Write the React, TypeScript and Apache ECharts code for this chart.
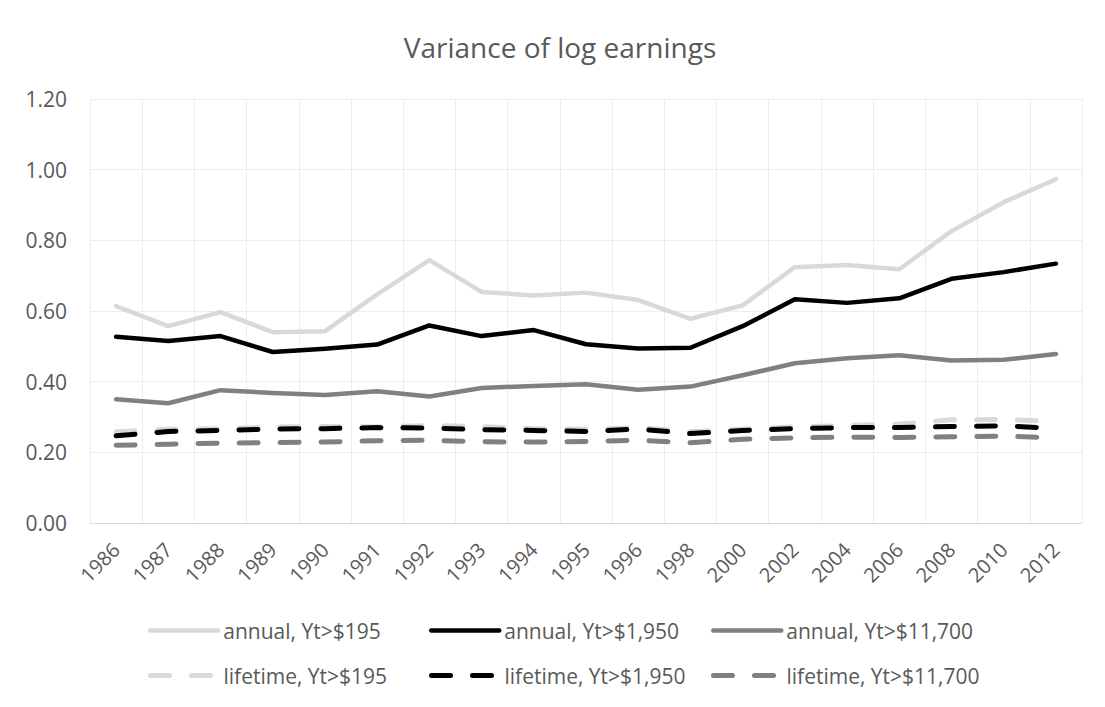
import React, { useEffect, useRef } from "react";
import * as echarts from "echarts";

const years = ["1986", "1987", "1988", "1989", "1990", "1991", "1992", "1993", "1994", "1995", "1996", "1998", "2000", "2002", "2004", "2006", "2008", "2010", "2012"];

const annual195 = [0.614, 0.557, 0.597, 0.540, 0.543, 0.647, 0.744, 0.654, 0.644, 0.652, 0.631, 0.578, 0.616, 0.724, 0.730, 0.718, 0.826, 0.908, 0.973];
const annual1950 = [0.527, 0.515, 0.529, 0.484, 0.493, 0.505, 0.559, 0.529, 0.546, 0.506, 0.494, 0.496, 0.557, 0.633, 0.623, 0.636, 0.691, 0.710, 0.734];
const annual11700 = [0.350, 0.339, 0.376, 0.368, 0.362, 0.373, 0.358, 0.382, 0.388, 0.393, 0.377, 0.386, 0.418, 0.452, 0.466, 0.475, 0.460, 0.462, 0.478];
const lifetime195 = [0.258, 0.265, 0.267, 0.272, 0.273, 0.272, 0.276, 0.273, 0.267, 0.265, 0.270, 0.258, 0.266, 0.272, 0.276, 0.280, 0.292, 0.293, 0.287];
const lifetime1950 = [0.247, 0.259, 0.262, 0.266, 0.267, 0.270, 0.269, 0.264, 0.262, 0.259, 0.266, 0.253, 0.262, 0.267, 0.270, 0.270, 0.273, 0.275, 0.268];
const lifetime11700 = [0.220, 0.223, 0.226, 0.228, 0.229, 0.233, 0.234, 0.230, 0.229, 0.231, 0.234, 0.227, 0.237, 0.241, 0.243, 0.242, 0.244, 0.246, 0.241];

const seriesNames = [
  "annual, Yt>$195",
  "annual, Yt>$1,950",
  "annual, Yt>$11,700",
  "lifetime, Yt>$195",
  "lifetime, Yt>$1,950",
  "lifetime, Yt>$11,700",
];
const seriesData = [annual195, annual1950, annual11700, lifetime195, lifetime1950, lifetime11700];
const seriesColors = ["#D9D9D9", "#000000", "#808080", "#D9D9D9", "#000000", "#808080"];

const FONT = "'Open Sans', sans-serif";
const TEXT = "#595959";

export default function App() {
  const ref = useRef<HTMLDivElement>(null);
  useEffect(() => {
    if (!ref.current) return;
    const chart = echarts.init(ref.current, undefined, { renderer: "svg" });
    const legendLeft = [140, 421, 703];
    const legendTop = [612, 657];
    const legends = seriesNames.map((name, i) => ({
      data: [name],
      left: legendLeft[i % 3],
      top: legendTop[Math.floor(i / 3)],
      padding: 0,
      itemWidth: 68,
      itemHeight: 14,
      selectedMode: false,
      itemStyle: { opacity: 0 },
      lineStyle: i < 3 ? { width: 4.5 } : { width: 5 },
      textStyle: { fontFamily: FONT, fontSize: 21, color: TEXT },
    }));
    chart.setOption({
      animation: false,
      backgroundColor: "#ffffff",
      textStyle: { fontFamily: FONT },
      graphic: [
        {
          type: "text",
          x: 552,
          y: 39,
          style: {
            text: "Variance of log earnings",
            fontFamily: FONT,
            fontSize: 28,
            fill: TEXT,
            textAlign: "center",
            textVerticalAlign: "middle",
          },
        },
      ],
      legend: legends,
      grid: { left: 82, top: 91, width: 992, height: 424, containLabel: false },
      xAxis: {
        type: "category",
        data: years,
        boundaryGap: true,
        axisLine: { show: true, lineStyle: { color: "#D9D9D9", width: 1 } },
        axisTick: { show: false },
        splitLine: { show: true, lineStyle: { color: "#EDEDED", width: 1 } },
        axisLabel: {
          rotate: 45,
          interval: 0,
          margin: 23,
          fontFamily: FONT,
          fontSize: 20,
          color: TEXT,
        },
      },
      yAxis: {
        type: "value",
        min: 0,
        max: 1.2,
        interval: 0.2,
        axisLine: { show: false },
        axisTick: { show: false },
        splitLine: { show: true, lineStyle: { color: "#EDEDED", width: 1 } },
        axisLabel: {
          margin: 23,
          fontFamily: FONT,
          fontSize: 21,
          color: TEXT,
          formatter: (v: number) => v.toFixed(2),
        },
      },
      series: seriesNames.map((name, i) => ({
        name,
        type: "line",
        data: seriesData[i],
        symbol: "none",
        showSymbol: false,
        color: seriesColors[i],
        lineStyle:
          i < 3
            ? { color: seriesColors[i], width: 4.5, cap: "round", join: "round" }
            : { color: seriesColors[i], width: 5, type: [19, 22], cap: "round", join: "round" },
      })),
    });
    return () => chart.dispose();
  }, []);
  return (
    <div
      style={{
        position: "relative",
        left: -1,
        top: -1,
        width: 1096,
        height: 690,
        borderTop: "1px solid #D9D9D9",
        borderLeft: "1px solid #D9D9D9",
      }}
    >
      <div ref={ref} style={{ width: 1096, height: 690 }} />
    </div>
  );
}
